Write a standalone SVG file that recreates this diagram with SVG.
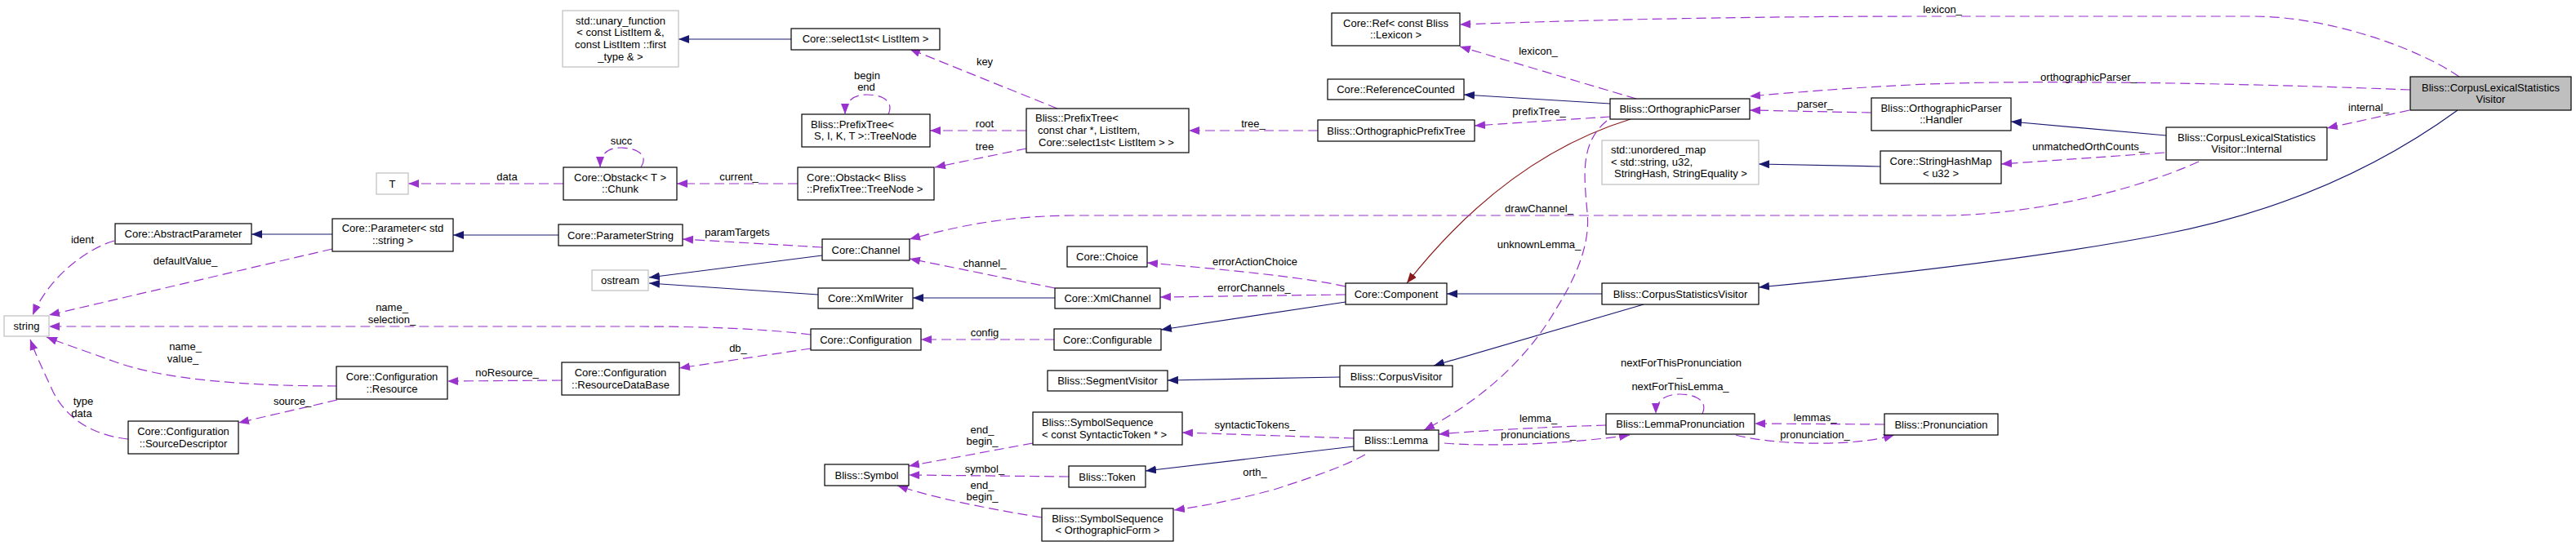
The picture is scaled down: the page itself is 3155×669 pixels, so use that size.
<svg xmlns="http://www.w3.org/2000/svg" width="3155" height="669" viewBox="0 0 3155 669">
<style>
text{font-family:"Liberation Sans",Arial,Helvetica,sans-serif;font-size:13px;fill:#000}
.node rect{fill:#fff;stroke:#000;stroke-width:1.2}
.node.ext rect{stroke:#bfbfbf}
.node.main rect{fill:#bfbfbf}
.node text{text-anchor:middle}
.node text.l{text-anchor:start}
.e{fill:none;stroke-width:1.2}
.u{stroke:#9a32cd;stroke-dasharray:12,6;marker-end:url(#ap)}
.i{stroke:#191970;marker-end:url(#ab)}
.r{stroke:#8b1a1a;marker-end:url(#ar)}
.lbl text{text-anchor:middle}
</style>
<defs>
<marker id="ap" markerWidth="14" markerHeight="11" refX="13" refY="5" orient="auto" markerUnits="userSpaceOnUse"><path d="M0,0L13,5L0,10z" fill="#9a32cd"/></marker>
<marker id="ab" markerWidth="14" markerHeight="11" refX="13" refY="5" orient="auto" markerUnits="userSpaceOnUse"><path d="M0,0L13,5L0,10z" fill="#191970"/></marker>
<marker id="ar" markerWidth="14" markerHeight="11" refX="13" refY="5" orient="auto" markerUnits="userSpaceOnUse"><path d="M0,0L13,5L0,10z" fill="#8b1a1a"/></marker>
</defs>
<rect width="3155" height="669" fill="#fff"/>
<g id="edges">
<path class="e i" d="M969,48 L831,48"/>
<path class="e i" d="M407,287 L308,287"/>
<path class="e i" d="M684,288 L555,288"/>
<path class="e i" d="M1007,313 L795,340"/>
<path class="e i" d="M1002,361 L795,347"/>
<path class="e i" d="M1292,365 L1118,365"/>
<path class="e i" d="M1972,127 L1793,116"/>
<path class="e i" d="M2653,166 L2463,149"/>
<path class="e i" d="M2303,204 L2154,201"/>
<path class="e i" d="M3010,135 C2900,215 2780,262 2650,287 C2500,316 2300,338 2154,352"/>
<path class="e i" d="M1962,360 L1772,360"/>
<path class="e i" d="M2013,373 L1756,448"/>
<path class="e i" d="M1648,370 L1422,404"/>
<path class="e i" d="M1641,462 L1430,466"/>
<path class="e i" d="M1658,547 L1403,577"/>
<path class="e r" d="M1997,146 C1880,182 1790,262 1723,347"/>
<path class="e u" d="M690,225 L500,225"/>
<path class="e u" d="M785,205 C795,190 780,181 760,181 C743,181 735,190 735,205"/>
<path class="e u" d="M977,225 L829,225"/>
<path class="e u" d="M1257,160 L1139,160"/>
<path class="e u" d="M1257,182 L1145,205"/>
<path class="e u" d="M1295,133 L1114,60"/>
<path class="e u" d="M1088,140 C1095,125 1082,116 1062,116 C1044,116 1035,125 1035,140"/>
<path class="e u" d="M1614,160 L1456,160"/>
<path class="e u" d="M2004,121 L1788,57"/>
<path class="e u" d="M3012,94 C2960,58 2850,20 2760,20 L2360,20 C2100,20 1900,26 1788,30"/>
<path class="e u" d="M1972,143 L1806,154"/>
<path class="e u" d="M2952,110 C2800,104 2500,96 2340,104 C2260,108 2200,113 2143,118"/>
<path class="e u" d="M2292,138 L2143,135"/>
<path class="e u" d="M2951,135 L2850,157"/>
<path class="e u" d="M2651,187 L2451,201"/>
<path class="e u" d="M2693,198 C2600,240 2470,264 2380,264 L1320,264 C1230,264 1170,278 1114,293"/>
<path class="e u" d="M1968,148 C1935,175 1940,215 1944,260 C1948,300 1930,340 1905,380 C1870,440 1815,490 1744,527"/>
<path class="e u" d="M1007,303 L836,293"/>
<path class="e u" d="M1292,353 L1114,317"/>
<path class="e u" d="M1648,351 C1600,340 1500,330 1405,322"/>
<path class="e u" d="M1648,361 L1421,364"/>
<path class="e u" d="M1291,416 L1128,416"/>
<path class="e u" d="M993,427 L832,451"/>
<path class="e u" d="M993,410 C930,402 850,400 780,400 L60,400"/>
<path class="e u" d="M688,466 L548,467"/>
<path class="e u" d="M413,473 C300,473 200,465 140,443 C110,432 80,422 57,413"/>
<path class="e u" d="M413,490 L292,518"/>
<path class="e u" d="M157,538 C110,533 80,510 65,480 C55,458 45,438 37,416"/>
<path class="e u" d="M140,295 C105,305 60,340 40,386"/>
<path class="e u" d="M407,305 L60,386"/>
<path class="e u" d="M1658,537 L1448,530"/>
<path class="e u" d="M1672,557 C1640,575 1590,590 1560,600 C1515,612 1475,620 1438,625"/>
<path class="e u" d="M1265,543 L1113,571"/>
<path class="e u" d="M1276,634 C1220,625 1150,612 1099,595"/>
<path class="e u" d="M1309,584 L1113,582"/>
<path class="e u" d="M1967,521 C1900,523 1820,527 1762,532"/>
<path class="e u" d="M1769,543 C1830,548 1930,543 1996,533"/>
<path class="e u" d="M2085,507 C2092,492 2078,483 2057,483 C2038,483 2028,492 2028,507"/>
<path class="e u" d="M2308,520 L2149,519"/>
<path class="e u" d="M2126,533 C2170,545 2270,548 2320,533"/>
<g class="lbl">
<text x="621" y="221">data</text>
<text x="761" y="177">succ</text>
<text x="905" y="221">current_</text>
<text x="1206" y="156">root</text>
<text x="1206" y="184">tree</text>
<text x="1206" y="80">key</text>
<text x="1062" y="97">begin</text>
<text x="1061" y="111">end</text>
<text x="1535" y="156">tree_</text>
<text x="1884" y="67">lexicon_</text>
<text x="2379" y="16">lexicon_</text>
<text x="1885" y="141">prefixTree_</text>
<text x="2558" y="99">orthographicParser_</text>
<text x="2223" y="132">parser_</text>
<text x="2901" y="136">internal_</text>
<text x="2558" y="184">unmatchedOrthCounts_</text>
<text x="1885" y="260">drawChannel_</text>
<text x="1885" y="304">unknownLemma_</text>
<text x="903" y="289">paramTargets</text>
<text x="1206" y="327">channel_</text>
<text x="1537" y="325">errorActionChoice</text>
<text x="1536" y="357">errorChannels_</text>
<text x="1206" y="412">config</text>
<text x="904" y="431">db_</text>
<text x="480" y="381">name_</text>
<text x="480" y="396">selection_</text>
<text x="621" y="461">noResource_</text>
<text x="227" y="429">name_</text>
<text x="224" y="444">value_</text>
<text x="358" y="496">source_</text>
<text x="102" y="496">type</text>
<text x="100" y="511">data</text>
<text x="101" y="298">ident</text>
<text x="227" y="324">defaultValue_</text>
<text x="1537" y="525">syntacticTokens_</text>
<text x="1537" y="583">orth_</text>
<text x="1203" y="531">end_</text>
<text x="1203" y="545">begin_</text>
<text x="1203" y="599">end_</text>
<text x="1203" y="613">begin_</text>
<text x="1206" y="579">symbol_</text>
<text x="1884" y="517">lemma_</text>
<text x="1884" y="537">pronunciations_</text>
<text x="2059" y="449">nextForThisPronunciation</text>
<text x="2057" y="461">_</text>
<text x="2058" y="478">nextForThisLemma_</text>
<text x="2223" y="516">lemmas_</text>
<text x="2223" y="537">pronunciation_</text>
</g>
</g>
<g id="n_unary" class="node ext"><rect x="689" y="13" width="142" height="69"/><text x="760" y="29.5">std::unary_function</text><text x="760" y="44">&lt; const ListItem &amp;,</text><text x="760" y="59">const ListItem ::first</text><text x="760" y="73.5">_type &amp; &gt;</text></g>
<g id="n_select1st" class="node"><rect x="969" y="35" width="182" height="26"/><text x="1060" y="52">Core::select1st&lt; ListItem &gt;</text></g>
<g id="n_ref" class="node"><rect x="1631" y="16" width="157" height="40"/><text x="1709.5" y="32.5">Core::Ref&lt; const Bliss</text><text x="1709.5" y="46.5">::Lexicon &gt;</text></g>
<g id="n_refcounted" class="node"><rect x="1626" y="97" width="167" height="25"/><text x="1709.5" y="114">Core::ReferenceCounted</text></g>
<g id="n_opt" class="node"><rect x="1614" y="147" width="192" height="26"/><text x="1710" y="164.5">Bliss::OrthographicPrefixTree</text></g>
<g id="n_op" class="node"><rect x="1972" y="121" width="171" height="25"/><text x="2057.5" y="138">Bliss::OrthographicParser</text></g>
<g id="n_handler" class="node"><rect x="2292" y="120" width="171" height="40"/><text x="2377.5" y="136.5">Bliss::OrthographicParser</text><text x="2377.5" y="150.5">::Handler</text></g>
<g id="n_clsv" class="node main"><rect x="2952" y="94" width="197" height="41"/><text x="3050.5" y="111.5">Bliss::CorpusLexicalStatistics</text><text x="3050.5" y="125.5">Visitor</text></g>
<g id="n_internal" class="node"><rect x="2653" y="156" width="197" height="40"/><text x="2751.5" y="172.5">Bliss::CorpusLexicalStatistics</text><text x="2751.5" y="186.5">Visitor::Internal</text></g>
<g id="n_umap" class="node ext"><rect x="1962" y="172" width="192" height="54"/><text class="l" x="1973" y="187.5">std::unordered_map</text><text class="l" x="1973" y="202.5">&lt; std::string, u32,</text><text class="l" x="1977" y="216.5">StringHash, StringEquality &gt;</text></g>
<g id="n_shm" class="node"><rect x="2303" y="185" width="148" height="40"/><text x="2377" y="201.5">Core::StringHashMap</text><text x="2377" y="216.5">&lt; u32 &gt;</text></g>
<g id="n_treenode" class="node"><rect x="982" y="140" width="157" height="40"/><text class="l" x="993" y="156.5">Bliss::PrefixTree&lt;</text><text class="l" x="997" y="170.5">S, I, K, T &gt;::TreeNode</text></g>
<g id="n_prefixtree" class="node"><rect x="1257" y="133" width="199" height="54"/><text class="l" x="1268" y="148.5">Bliss::PrefixTree&lt;</text><text class="l" x="1271" y="163.5">const char *, ListItem,</text><text class="l" x="1272" y="178.5">Core::select1st&lt; ListItem &gt; &gt;</text></g>
<g id="n_obstack_tn" class="node"><rect x="977" y="205" width="167" height="40"/><text class="l" x="988" y="221.5">Core::Obstack&lt; Bliss</text><text class="l" x="988" y="235.5">::PrefixTree::TreeNode &gt;</text></g>
<g id="n_chunk" class="node"><rect x="690" y="205" width="139" height="40"/><text x="759.5" y="221.5">Core::Obstack&lt; T &gt;</text><text x="759.5" y="235.5">::Chunk</text></g>
<g id="n_T" class="node ext"><rect x="461" y="212" width="39" height="26"/><text x="480.5" y="229.5">T</text></g>
<g id="n_absparam" class="node"><rect x="141" y="274" width="167" height="25"/><text x="224.5" y="291">Core::AbstractParameter</text></g>
<g id="n_param" class="node"><rect x="407" y="268" width="148" height="40"/><text x="481" y="283.5">Core::Parameter&lt; std</text><text x="481" y="298.5">::string &gt;</text></g>
<g id="n_paramstring" class="node"><rect x="684" y="275" width="152" height="26"/><text x="760" y="292.5">Core::ParameterString</text></g>
<g id="n_channel" class="node"><rect x="1007" y="293" width="107" height="26"/><text x="1060.5" y="310.5">Core::Channel</text></g>
<g id="n_choice" class="node"><rect x="1307" y="302" width="98" height="25"/><text x="1356" y="318.5">Core::Choice</text></g>
<g id="n_ostream" class="node ext"><rect x="725" y="331" width="69" height="25"/><text x="759.5" y="348">ostream</text></g>
<g id="n_xmlwriter" class="node"><rect x="1002" y="353" width="116" height="25"/><text x="1060" y="369.5">Core::XmlWriter</text></g>
<g id="n_xmlchannel" class="node"><rect x="1292" y="353" width="129" height="25"/><text x="1356.5" y="369.5">Core::XmlChannel</text></g>
<g id="n_component" class="node"><rect x="1648" y="347" width="124" height="26"/><text x="1710" y="364.5">Core::Component</text></g>
<g id="n_csv" class="node"><rect x="1962" y="347" width="192" height="26"/><text x="2058" y="364.5">Bliss::CorpusStatisticsVisitor</text></g>
<g id="n_string" class="node ext"><rect x="5" y="387" width="55" height="25"/><text x="32.5" y="404">string</text></g>
<g id="n_configuration" class="node"><rect x="993" y="403" width="135" height="26"/><text x="1060.5" y="420.5">Core::Configuration</text></g>
<g id="n_configurable" class="node"><rect x="1291" y="403" width="131" height="26"/><text x="1356.5" y="420.5">Core::Configurable</text></g>
<g id="n_resdb" class="node"><rect x="688" y="444" width="144" height="40"/><text x="760" y="460.5">Core::Configuration</text><text x="760" y="475.5">::ResourceDataBase</text></g>
<g id="n_resource" class="node"><rect x="412" y="449" width="136" height="40"/><text x="480" y="465.5">Core::Configuration</text><text x="480" y="480.5">::Resource</text></g>
<g id="n_segvisitor" class="node"><rect x="1283" y="454" width="147" height="25"/><text x="1356.5" y="471">Bliss::SegmentVisitor</text></g>
<g id="n_corpusvisitor" class="node"><rect x="1641" y="448" width="138" height="26"/><text x="1710" y="465.5">Bliss::CorpusVisitor</text></g>
<g id="n_srcdesc" class="node"><rect x="157" y="516" width="135" height="40"/><text x="224.5" y="532.5">Core::Configuration</text><text x="224.5" y="547.5">::SourceDescriptor</text></g>
<g id="n_symseq_st" class="node"><rect x="1265" y="505" width="183" height="40"/><text class="l" x="1276" y="521.5">Bliss::SymbolSequence</text><text class="l" x="1276" y="536.5">&lt; const SyntacticToken * &gt;</text></g>
<g id="n_lemma" class="node"><rect x="1658" y="527" width="104" height="25"/><text x="1710" y="544">Bliss::Lemma</text></g>
<g id="n_lp" class="node"><rect x="1967" y="507" width="182" height="25"/><text x="2058" y="524">Bliss::LemmaPronunciation</text></g>
<g id="n_pron" class="node"><rect x="2308" y="507" width="139" height="26"/><text x="2377.5" y="524.5">Bliss::Pronunciation</text></g>
<g id="n_symbol" class="node"><rect x="1010" y="569" width="103" height="26"/><text x="1061.5" y="586.5">Bliss::Symbol</text></g>
<g id="n_token" class="node"><rect x="1309" y="571" width="94" height="26"/><text x="1356" y="588.5">Bliss::Token</text></g>
<g id="n_symseq_of" class="node"><rect x="1276" y="623" width="161" height="40"/><text x="1356.5" y="639.5">Bliss::SymbolSequence</text><text x="1356.5" y="654">&lt; OrthographicForm &gt;</text></g>
</svg>
